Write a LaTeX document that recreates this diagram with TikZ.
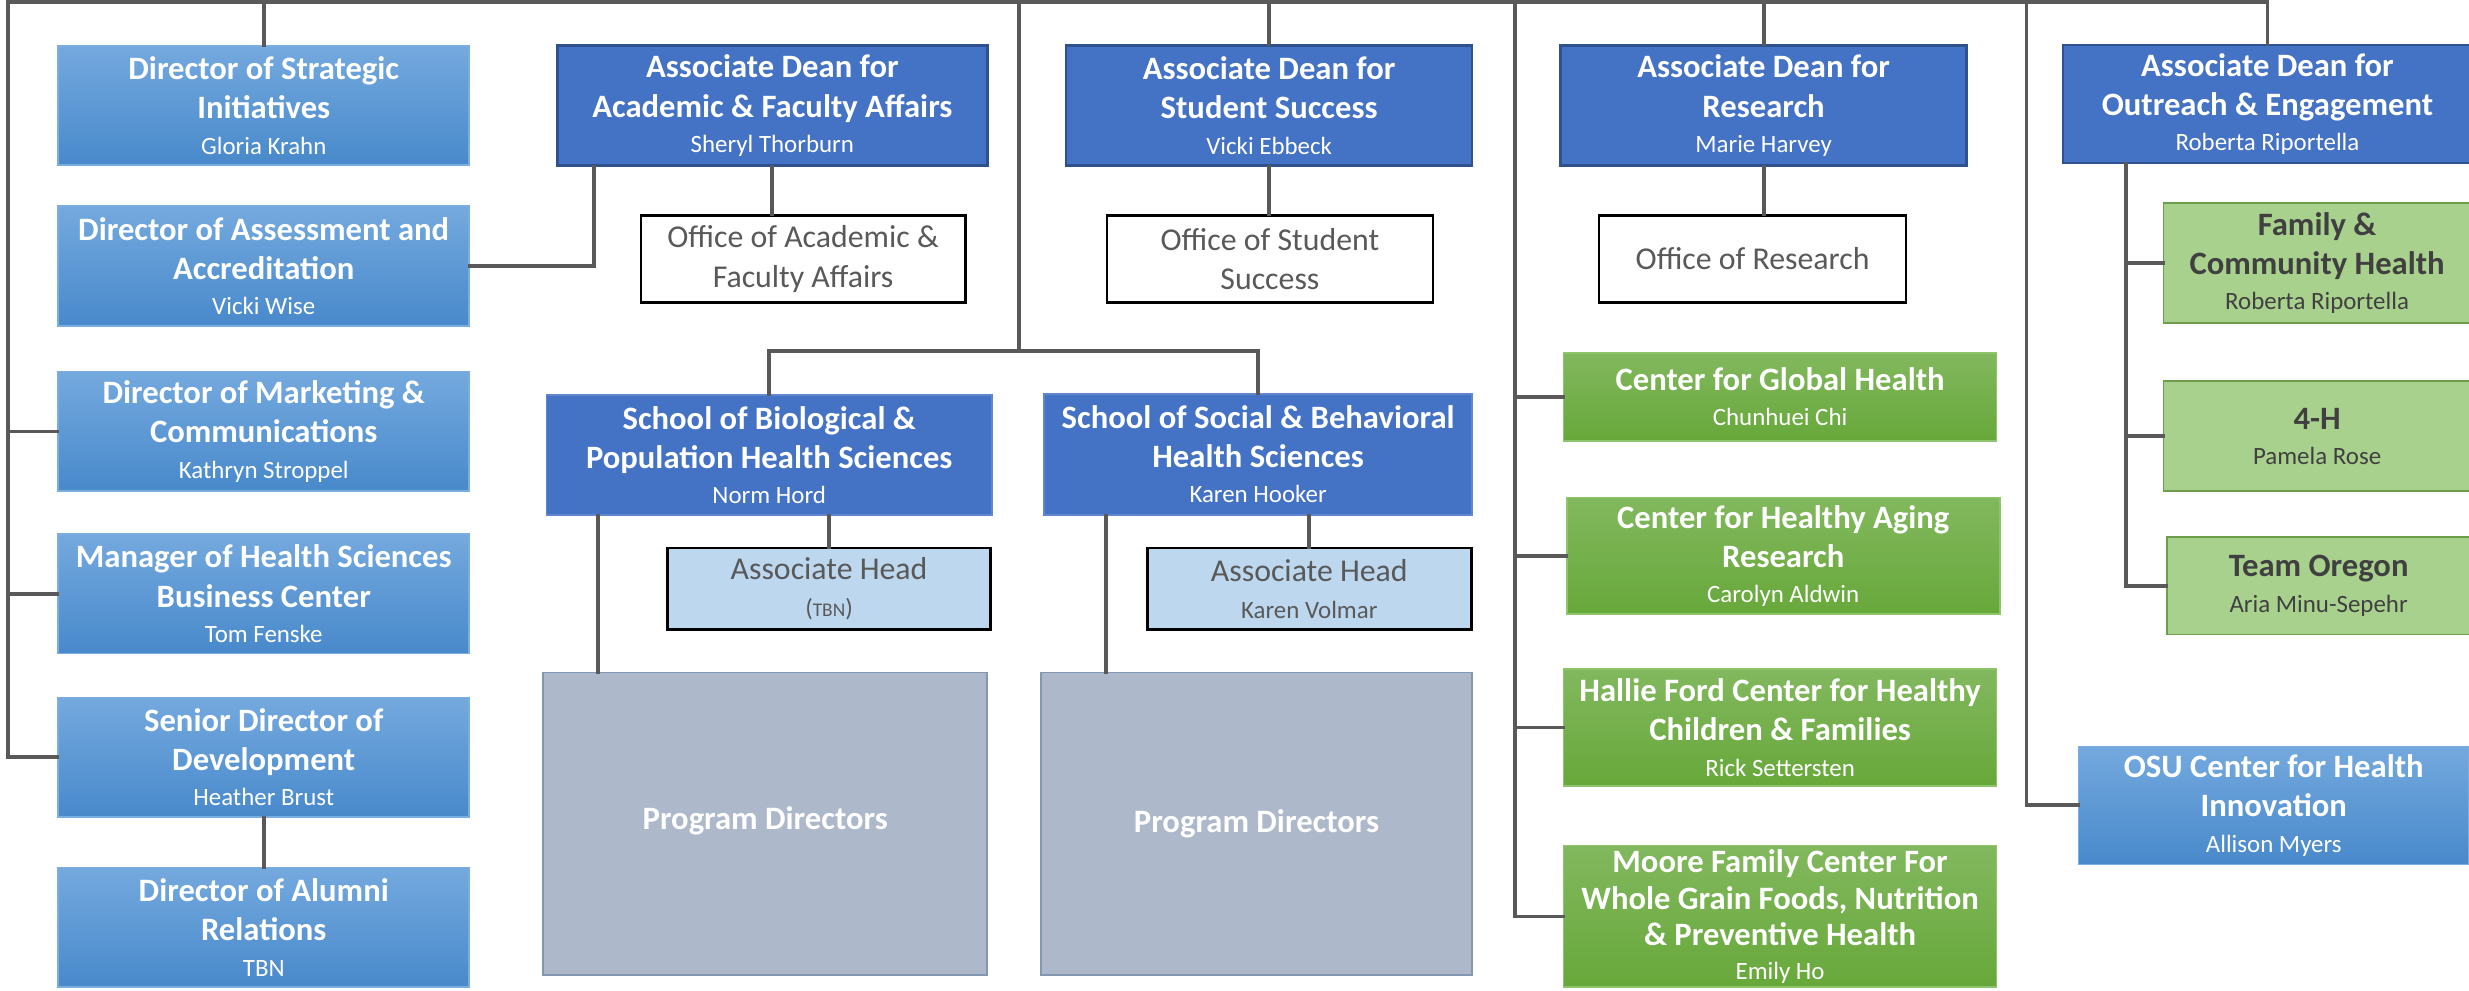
\documentclass[tikz,border=0pt]{standalone}
\usepackage{fontspec}
\setmainfont{Carlito}

\definecolor{linegray}{HTML}{595959}
\definecolor{staffTop}{HTML}{74A9DE}
\definecolor{staffBot}{HTML}{4889CB}
\definecolor{staffEdge}{HTML}{7AAEE0}
\definecolor{deanFill}{HTML}{4472C4}
\definecolor{deanEdge}{HTML}{2F528F}
\definecolor{pdFill}{HTML}{ADB9CA}
\definecolor{pdEdge}{HTML}{8497B0}
\definecolor{headFill}{HTML}{BDD7EE}
\definecolor{ctrTop}{HTML}{82B85E}
\definecolor{ctrBot}{HTML}{67A83A}
\definecolor{ctrEdge}{HTML}{8EC46C}
\definecolor{extFill}{HTML}{A9D18E}
\definecolor{extEdge}{HTML}{6E9E4C}
\definecolor{textgray}{HTML}{595959}
\definecolor{darkgray}{HTML}{404040}

\newcommand{\titlefont}{\fontsize{11.8}{14.2}\selectfont\bfseries}
\newcommand{\namefont}{\fontsize{9}{11}\selectfont\mdseries}
\newcommand{\officefont}{\fontsize{11.5}{14.2}\selectfont}

\begin{document}
\begin{tikzpicture}[line cap=rect,line join=miter,x=0.02cm,y=-0.02cm,
  conn/.style={draw=linegray,line width=1.4pt},
  staff/.style={draw=staffEdge,line width=0.6pt,top color=staffTop,bottom color=staffBot,
    text=white,align=center,inner sep=0pt,font=\titlefont},
  dean/.style={draw=deanEdge,line width=0.9pt,fill=deanFill,
    text=white,align=center,inner sep=0pt,font=\titlefont},
  school/.style={draw=deanFill!85!white,line width=0.6pt,fill=deanFill,
    text=white,align=center,inner sep=0pt,font=\titlefont},
  office/.style={draw=black,line width=1pt,fill=white,
    text=textgray,align=center,inner sep=0pt,font=\officefont},
  headbox/.style={office,fill=headFill},
  pdbox/.style={draw=pdEdge,line width=0.6pt,fill=pdFill,
    text=white,align=center,inner sep=0pt,font=\titlefont},
  ctr/.style={draw=ctrEdge,line width=0.6pt,top color=ctrTop,bottom color=ctrBot,
    text=white,align=center,inner sep=0pt,font=\titlefont},
  ext/.style={draw=extEdge,line width=0.6pt,fill=extFill,
    text=darkgray,align=center,inner sep=0pt,font=\titlefont}]
\useasboundingbox (0,0) rectangle (1568,629);
\clip (0,0) rectangle (1568,629);

% staff column
\node[staff,minimum width=5.22cm,minimum height=1.52cm] (strat) at (167.5,67)
  {Director of Strategic\\Initiatives\\[-1.5pt]{\namefont Gloria Krahn}};
\node[staff,minimum width=5.22cm,minimum height=1.52cm] (assess) at (167.5,169)
  {Director of Assessment and\\Accreditation\\[-1.5pt]{\namefont Vicki Wise}};
\node[staff,minimum width=5.22cm,minimum height=1.52cm] (market) at (167.5,274)
  {Director of Marketing \&\\Communications\\[-1.5pt]{\namefont Kathryn Stroppel}};
\node[staff,minimum width=5.22cm,minimum height=1.52cm] (manager) at (167.5,377)
  {Manager of Health Sciences\\Business Center\\[-1.5pt]{\namefont Tom Fenske}};
\node[staff,minimum width=5.22cm,minimum height=1.52cm] (senior) at (167.5,481)
  {Senior Director of\\Development\\[-1.5pt]{\namefont Heather Brust}};
\node[staff,minimum width=5.22cm,minimum height=1.52cm] (alumni) at (167.5,589)
  {Director of Alumni\\Relations\\[-1.5pt]{\namefont TBN}};

% associate deans
\node[dean,minimum width=5.46cm,minimum height=1.52cm] (acad) at (490.5,67)
  {Associate Dean for\\Academic \& Faculty Affairs\\[-1.5pt]{\namefont Sheryl Thorburn}};
\node[dean,minimum width=5.16cm,minimum height=1.52cm] (stud) at (806,67)
  {Associate Dean for\\Student Success\\[-1.5pt]{\namefont Vicki Ebbeck}};
\node[dean,minimum width=5.16cm,minimum height=1.52cm] (res) at (1120,67)
  {Associate Dean for\\Research\\[-1.5pt]{\namefont Marie Harvey}};
\node[dean,minimum width=5.2cm,minimum height=1.5cm] (outr) at (1440,66)
  {Associate Dean for\\Outreach \& Engagement\\[-1.5pt]{\namefont Roberta Riportella}};

% offices
\node[office,minimum width=4.12cm,minimum height=1.1cm] (offacad) at (510,164.5)
  {Office of Academic \&\\Faculty Affairs};
\node[office,minimum width=4.14cm,minimum height=1.1cm] (offstud) at (806.5,164.5)
  {Office of Student\\Success};
\node[office,minimum width=3.9cm,minimum height=1.1cm] (offres) at (1113,164.5)
  {Office of Research};

% schools
\node[school,minimum width=5.66cm,minimum height=1.52cm] (bio) at (488.5,289)
  {School of Biological \&\\Population Health Sciences\\[-1.5pt]{\namefont Norm Hord}};
\node[school,minimum width=5.44cm,minimum height=1.54cm] (soc) at (799,288.5)
  {School of Social \& Behavioral\\Health Sciences\\[-1.5pt]{\namefont Karen Hooker}};
\node[headbox,minimum width=4.1cm,minimum height=1.04cm] (headbio) at (526.5,374)
  {Associate Head\\[-1pt]{\fontsize{9}{11}\selectfont({\fontsize{7}{9}\selectfont TBN})}};
\node[headbox,minimum width=4.12cm,minimum height=1.04cm] (headsoc) at (831.5,374)
  {Associate Head\\[-1pt]{\namefont Karen Volmar}};
\node[pdbox,minimum width=5.64cm,minimum height=3.84cm] (pdbio) at (486,523)
  {\raisebox{0.14cm}{Program Directors}};
\node[pdbox,minimum width=5.48cm,minimum height=3.84cm] (pdsoc) at (798,523)
  {Program Directors};

% research centers
\node[ctr,minimum width=5.5cm,minimum height=1.12cm] (glob) at (1130.5,252)
  {Center for Global Health\\[-1.5pt]{\namefont Chunhuei Chi}};
\node[ctr,minimum width=5.5cm,minimum height=1.48cm] (aging) at (1132.5,353)
  {Center for Healthy Aging\\Research\\[-1.5pt]{\namefont Carolyn Aldwin}};
\node[ctr,minimum width=5.5cm,minimum height=1.48cm] (hallie) at (1130.5,462)
  {Hallie Ford Center for Healthy\\Children \& Families\\[-1.5pt]{\namefont Rick Settersten}};
\node[ctr,minimum width=5.5cm,minimum height=1.8cm,font=\fontsize{11.8}{13.2}\selectfont\bfseries]
  (moore) at (1130.5,582)
  {Moore Family Center For\\Whole Grain Foods, Nutrition\\\& Preventive Health\\[-1pt]{\namefont Emily Ho}};

% extension programs
\node[ext,minimum width=3.9cm,minimum height=1.52cm] (fam) at (1471.5,167)
  {Family \&\\Community Health\\[-1.5pt]{\namefont Roberta Riportella}};
\node[ext,minimum width=3.9cm,minimum height=1.4cm] (fourh) at (1471.5,277)
  {4-H\\[-1.5pt]{\namefont Pamela Rose}};
\node[ext,minimum width=3.86cm,minimum height=1.24cm] (team) at (1472.5,372)
  {Team Oregon\\[-1.5pt]{\namefont Aria Minu-Sepehr}};
\node[staff,minimum width=4.96cm,minimum height=1.5cm] (osu) at (1444,511.5)
  {OSU Center for Health\\Innovation\\[-1.5pt]{\namefont Allison Myers}};

% connectors
\coordinate (busL) at (5,1.3);
\coordinate (schoolbus) at (647,223);
\coordinate (ctrbus) at (962,0);
\coordinate (osubus) at (1287,0);
\coordinate (extbus) at (1350,0);
\draw[conn] (senior.west) -| (busL) -- (outr.north |- busL) -- (outr.north);
\draw[conn] (market.west) -- (busL |- market.west);
\draw[conn] (manager.west) -- (busL |- manager.west);
\draw[conn] (strat.north) -- (strat.north |- busL);
\draw[conn] (stud.north) -- (stud.north |- busL);
\draw[conn] (res.north) -- (res.north |- busL);
\draw[conn] (senior.south) -- (alumni.north);
\draw[conn] (assess.east) -| ([xshift=0.48cm]acad.south west);
\draw[conn] (acad.south) -- (acad.south |- offacad.north);
\draw[conn] (stud.south) -- (stud.south |- offstud.north);
\draw[conn] (res.south) -- (res.south |- offres.north);
\draw[conn] (schoolbus |- busL) -- (schoolbus);
\draw[conn] (bio.north) |- (schoolbus) -| (soc.north);
\draw[conn] (headbio.north) -- (headbio.north |- bio.south);
\draw[conn] (headsoc.north) -- (headsoc.north |- soc.south);
\draw[conn] ([xshift=0.7cm]pdbio.north west) coordinate (pdb) -- (pdb |- bio.south);
\draw[conn] ([xshift=0.84cm]pdsoc.north west) coordinate (pds) -- (pds |- soc.south);
\draw[conn] (ctrbus |- busL) |- (moore.west);
\foreach \n in {glob,aging,hallie}
  \draw[conn] (\n.west) -- (ctrbus |- \n.west);
\draw[conn] (osubus |- busL) |- (osu.west);
\draw[conn] (extbus |- outr.south) |- (team.west);
\foreach \n in {fam,fourh}
  \draw[conn] (\n.west) -- (extbus |- \n.west);
\end{tikzpicture}
\end{document}
